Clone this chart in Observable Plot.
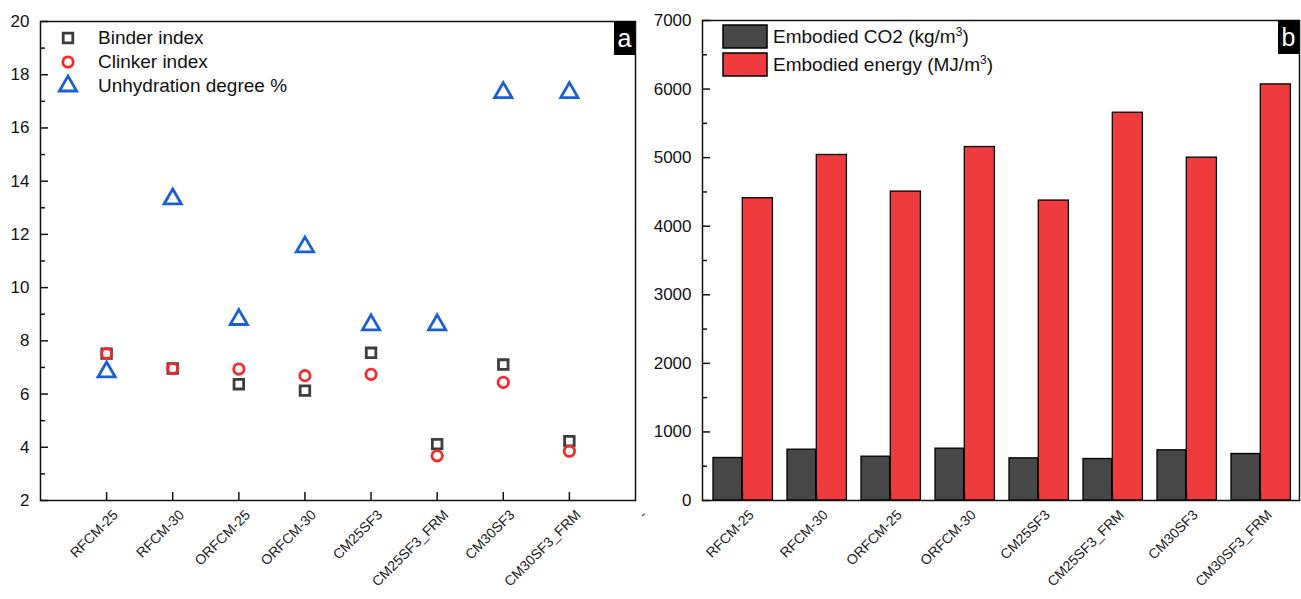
<!DOCTYPE html>
<html>
<head>
<meta charset="utf-8">
<script src="https://cdn.jsdelivr.net/npm/d3@7"></script>
<script src="https://cdn.jsdelivr.net/npm/@observablehq/plot@0.6"></script>
<style>
  html, body { margin: 0; padding: 0; background: #fff; }
  body { font-family: "Liberation Sans", Arial, sans-serif; }
  #wrap { position: relative; width: 1301px; height: 599px; display: flex; overflow: hidden; }
  .tag { position: absolute; background: #000; color: #fff; font-size: 25px; line-height: 34px;
         text-align: center; width: 21px; height: 34px; }
  .legend { position: absolute; font-size: 19px; color: #111; }
  .legend .item { position: absolute; white-space: nowrap; display: flex; align-items: center; }
</style>
</head>
<body>
<div id="wrap"></div>
<script>
// Mix designs shown on both panels
const categories = ["RFCM-25", "RFCM-30", "ORFCM-25", "ORFCM-30", "CM25SF3", "CM25SF3_FRM", "CM30SF3", "CM30SF3_FRM"];
// Panel a: indices per mix
const binderIndex = [7.52, 6.96, 6.37, 6.13, 7.55, 4.12, 7.11, 4.23];
const clinkerIndex = [7.52, 6.96, 6.94, 6.69, 6.74, 3.68, 6.44, 3.85];
const unhydrationDegree = [6.83, 13.33, 8.8, 11.53, 8.6, 8.6, 17.33, 17.33];
// Panel b: embodied CO2 (kg/m3) and embodied energy (MJ/m3)
const embodiedCO2 = [620, 741, 639, 756, 615, 605, 732, 678];
const embodiedEnergy = [4408, 5039, 4505, 5155, 4374, 5655, 5000, 6068];
// Axis ticks
const leftMajorTicks = [2, 4, 6, 8, 10, 12, 14, 16, 18, 20];
const leftMinorTicks = [3, 5, 7, 9, 11, 13, 15, 17, 19];
const rightMajorTicks = [0, 1000, 2000, 3000, 4000, 5000, 6000, 7000];
const rightMinorTicks = [500, 1500, 2500, 3500, 4500, 5500, 6500];
const leftXTickLabels = [...categories, "-"];

const rows = categories.map((name, i) => ({
  name, pos: i + 1,
  binder: binderIndex[i], clinker: clinkerIndex[i], unhydration: unhydrationDegree[i],
  co2: embodiedCO2[i], energy: embodiedEnergy[i]
}));

const font = '"Liberation Sans", Arial, sans-serif';
const ink = "#111";
const colGray = "#3d3d3d";
const colRed = "#f52b2b";
const colBlue = "#1a5fd4";
const barGray = "#474747";
const barRed = "#ef3b3d";

// marker sizes (radius in Plot's dot units)
const rSquare = 5.4, rCircle = 5.2, rTriangle = 6.4, markerStroke = 2.8;

const wrap = document.getElementById("wrap");

// ---------- Panel a ----------
const leftPositions = leftXTickLabels.map((_, i) => i + 1);
const left = Plot.plot({
  width: 650, height: 599,
  marginLeft: 40, marginRight: 15, marginTop: 21, marginBottom: 99,
  x: {domain: [0, 9]},
  y: {domain: [2, 20]},
  style: {fontFamily: font, color: ink, background: "transparent", overflow: "visible"},
  marks: [
    Plot.axisY(leftMajorTicks, {tickSize: -8, tickFormat: () => "", label: null, strokeWidth: 1.5}),
    Plot.axisY(leftMinorTicks, {tickSize: -5, tickFormat: () => "", label: null, strokeWidth: 1.5}),
    Plot.axisY(leftMajorTicks, {tickSize: 0, tickPadding: 11, label: null, fontSize: 17}),
    Plot.axisX(categories.map((_, i) => i + 1), {tickSize: -8, tickFormat: () => "", label: null, strokeWidth: 1.5}),
    Plot.axisX(leftPositions, {tickSize: 0, tickPadding: 12, dx: 9, tickRotate: -45, fontSize: 14,
      fill: "#222", tickFormat: d => leftXTickLabels[d - 1], label: null}),
    Plot.dot(rows, {x: "pos", y: "unhydration", symbol: "triangle", r: rTriangle, stroke: colBlue, strokeWidth: markerStroke, fill: "none"}),
    Plot.dot(rows, {x: "pos", y: "binder", symbol: "square", r: rSquare, stroke: colGray, strokeWidth: markerStroke, fill: "none"}),
    Plot.dot(rows, {x: "pos", y: "clinker", symbol: "circle", r: rCircle, stroke: colRed, strokeWidth: markerStroke, fill: "none"}),
    Plot.frame({stroke: ink, strokeWidth: 1.5})
  ]
});

// ---------- Panel b ----------
const right = Plot.plot({
  width: 651, height: 599,
  marginLeft: 52, marginRight: 2, marginTop: 20, marginBottom: 99,
  x: {domain: categories, padding: 0},
  y: {domain: [0, 7000]},
  style: {fontFamily: font, color: ink, background: "transparent", overflow: "visible"},
  marks: [
    Plot.barY(rows, {x: "name", y: "co2", fill: barGray, stroke: "#000", strokeWidth: 1.3, insetLeft: 8, insetRight: 37.3}),
    Plot.barY(rows, {x: "name", y: "energy", fill: barRed, stroke: "#000", strokeWidth: 1.3, insetLeft: 37.3, insetRight: 6.6}),
    Plot.axisY(rightMajorTicks, {tickSize: -8, tickFormat: () => "", label: null, strokeWidth: 1.5}),
    Plot.axisY(rightMinorTicks, {tickSize: -5, tickFormat: () => "", label: null, strokeWidth: 1.5}),
    Plot.axisY(rightMajorTicks, {tickSize: 0, tickPadding: 11, label: null, fontSize: 17, tickFormat: d => String(d)}),
    Plot.axisX({tickSize: -8, tickFormat: () => "", label: null, strokeWidth: 1.5}),
    Plot.axisX({tickSize: 0, tickPadding: 12, dx: 9, tickRotate: -45, fontSize: 14, fill: "#222", label: null}),
    Plot.frame({stroke: ink, strokeWidth: 1.5})
  ]
});

const leftBox = document.createElement("div");
leftBox.style.cssText = "position:relative;width:650px;height:599px;";
leftBox.appendChild(left);
const rightBox = document.createElement("div");
rightBox.style.cssText = "position:relative;width:651px;height:599px;";
rightBox.appendChild(right);
wrap.appendChild(leftBox);
wrap.appendChild(rightBox);

// Panel tags
function tag(text, x, y) {
  const d = document.createElement("div");
  d.className = "tag";
  d.textContent = text;
  d.style.left = x + "px";
  d.style.top = y + "px";
  wrap.appendChild(d);
}
tag("a", 614, 21);
tag("b", 1278, 20);

// Legends
function legendItem(markerSvg, label, x, y, textX) {
  const it = document.createElement("div");
  it.className = "item";
  it.style.left = x + "px";
  it.style.top = y + "px";
  it.innerHTML = markerSvg + `<span style="margin-left:${textX}px">${label}</span>`;
  return it;
}
const legA = document.createElement("div");
legA.className = "legend";
legA.style.cssText = "left:0;top:0;";
const mk = inner => `<svg width="20" height="20" viewBox="-10 -10 20 20" style="overflow:visible">${inner}</svg>`;
const sq = d3.symbol(d3.symbolSquare, rSquare * rSquare * Math.PI)();
const tri = d3.symbol(d3.symbolTriangle, rTriangle * rTriangle * Math.PI)();
legA.appendChild(legendItem(mk(`<path d="${sq}" fill="none" stroke="${colGray}" stroke-width="${markerStroke}"/>`), "Binder index", 58, 27, 20));
legA.appendChild(legendItem(mk(`<circle r="${rCircle}" fill="none" stroke="${colRed}" stroke-width="${markerStroke}"/>`), "Clinker index", 58, 51, 20));
legA.appendChild(legendItem(mk(`<path d="${tri}" fill="none" stroke="${colBlue}" stroke-width="${markerStroke}"/>`), "Unhydration degree %", 58, 75, 20));
wrap.appendChild(legA);

const legB = document.createElement("div");
legB.className = "legend";
legB.style.cssText = "left:0;top:0;";
const sw = c => `<svg width="46" height="25"><rect x="1" y="1" width="44" height="23" fill="${c}" stroke="#000" stroke-width="1.5"/></svg>`;
legB.appendChild(legendItem(sw(barGray), "Embodied CO2 (kg/m<sup style='font-size:12px'>3</sup>)", 722, 24, 5));
legB.appendChild(legendItem(sw(barRed), "Embodied energy (MJ/m<sup style='font-size:12px'>3</sup>)", 722, 52, 5));
wrap.appendChild(legB);
</script>
</body>
</html>
